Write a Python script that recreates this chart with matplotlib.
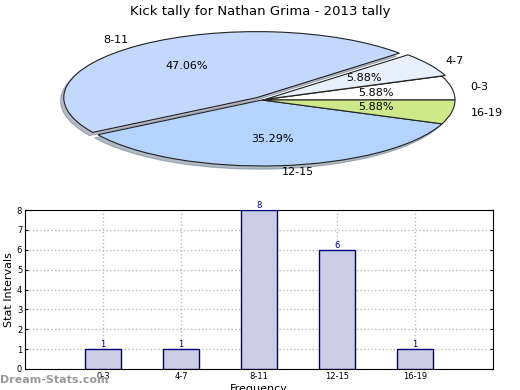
import matplotlib.pyplot as plt
import numpy as np

# data
intervals = ['0-3', '4-7', '8-11', '12-15', '16-19']
kicks = [1, 1, 8, 6, 1]
pie_colors = ['#ffffff', '#e8f0fc', '#c4d8fd', '#b4d4fd', '#cfe98a']
pie_explode = [0, 0.02, 0.045, 0, 0]

fig = plt.figure(figsize=(5.2, 3.9), dpi=100)

# ---- pie (flattened ellipse) ----
# axes box: full width, top 200 px of the figure
ax_pie = fig.add_axes([0, 190 / 390, 1, 200 / 390])
wedges, texts, autotexts = ax_pie.pie(
    kicks, labels=intervals, colors=pie_colors, explode=pie_explode,
    startangle=0, autopct='%.2f%%', pctdistance=0.6, labeldistance=1.1,
    shadow={'ox': -0.012, 'oy': -0.035, 'shade': 0.45},
    wedgeprops={'edgecolor': '#222222', 'linewidth': 0.8},
    textprops={'fontsize': 8})
ax_pie.set_aspect('auto')
# centre at (262,100) px, radius 193 px horizontally, 66 px vertically
ax_pie.set_xlim(-262 / 193, (520 - 262) / 193)
ax_pie.set_ylim(-100 / 66, 100 / 66)
ax_pie.axis('off')

fig.text(0.5, 1 - 11 / 390, 'Kick tally for Nathan Grima - 2013 tally',
         ha='center', va='center', fontsize=9.5)

# ---- bars ----
ax = fig.add_axes([25 / 520, 21 / 390, 468 / 520, 159 / 390])
x = np.arange(len(intervals))
bars = ax.bar(x, kicks, width=0.46, color='#ccccE6', edgecolor='#000080',
              linewidth=1, zorder=3)
for xi, v in zip(x, kicks):
    ax.text(xi, v, str(v), ha='center', va='bottom', fontsize=6,
            color='#000080', zorder=4)

ax.set_xlim(-1, 5)
ax.set_ylim(0, 8)
ax.set_xticks(x)
ax.set_xticklabels(intervals)
ax.set_yticks(range(0, 9))
ax.tick_params(labelsize=6, length=2, direction='in', right=True, pad=2)
ax.grid(True, linestyle=':', color='#bbbbbb', linewidth=1, zorder=0)
ax.set_axisbelow(True)
ax.set_ylabel('Stat Intervals', fontsize=8, labelpad=2)
ax.set_xlabel('Frequency', fontsize=8, labelpad=2)

fig.text(0.0, 1 - 380 / 390, 'Dream-Stats.com', ha='left', va='center',
         fontsize=8, fontweight='bold', color='#999999')

fig.savefig('out.png', dpi=100)
